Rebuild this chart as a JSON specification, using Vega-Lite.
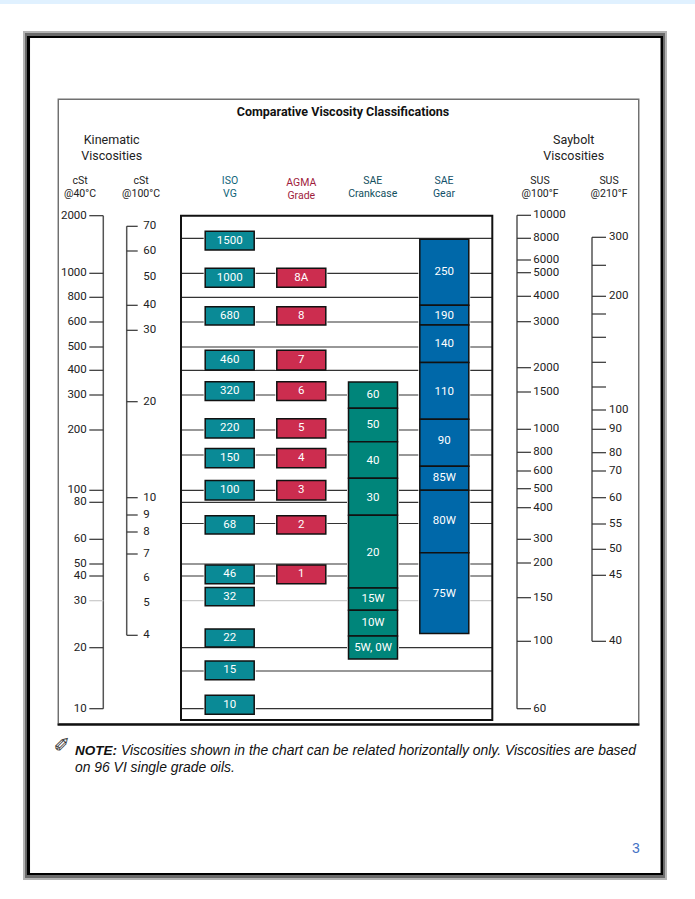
{"$schema":"https://vega.github.io/schema/vega-lite/v6.json","width":695,"height":899,"padding":0,"autosize":{"type":"none"},"background":"white","config":{"view":{"stroke":null}},
"datasets":{
"page":[
{"element":"strip","x0":0,"x1":100,"y0":0,"y1":0.44},
{"element":"outer","x0":3.31,"x1":95.97,"y0":3.45,"y1":97.89},
{"element":"mid","x0":3.6,"x1":95.68,"y0":3.67,"y1":97.66},
{"element":"black","x0":3.88,"x1":95.4,"y0":4.0,"y1":97.33},
{"element":"white","x0":4.32,"x1":95.04,"y0":4.23,"y1":97.11},
{"element":"frame","x0":8.28,"x1":92.01,"y0":10.96,"y1":80.6},
{"element":"white","x0":8.49,"x1":91.8,"y0":11.12,"y1":80.42},
{"element":"base","x0":8.28,"x1":92.01,"y0":80.48,"y1":80.73}
],
"headers":[
{"role":"title","text":"Comparative Viscosity Classifications","x":49.35,"y":12.46},
{"role":"group","text":"Kinematic","x":16.07,"y":15.57},
{"role":"group","text":"Viscosities","x":16.07,"y":17.35},
{"role":"group","text":"Saybolt","x":82.55,"y":15.57},
{"role":"group","text":"Viscosities","x":82.55,"y":17.35},
{"role":"column","tint":"scale","text":"cSt","x":11.51,"y":20.13},
{"role":"column","tint":"scale","text":"@40°C","x":11.51,"y":21.58},
{"role":"column","tint":"scale","text":"cSt","x":20.29,"y":20.13},
{"role":"column","tint":"scale","text":"@100°C","x":20.29,"y":21.58},
{"role":"column","tint":"ISO VG","text":"ISO","x":33.09,"y":20.13},
{"role":"column","tint":"ISO VG","text":"VG","x":33.09,"y":21.58},
{"role":"column","tint":"AGMA Grade","text":"AGMA","x":43.35,"y":20.32},
{"role":"column","tint":"AGMA Grade","text":"Grade","x":43.35,"y":21.77},
{"role":"column","tint":"SAE Crankcase","text":"SAE","x":53.63,"y":20.13},
{"role":"column","tint":"SAE Crankcase","text":"Crankcase","x":53.63,"y":21.58},
{"role":"column","tint":"SAE Gear","text":"SAE","x":63.88,"y":20.13},
{"role":"column","tint":"SAE Gear","text":"Gear","x":63.88,"y":21.58},
{"role":"column","tint":"scale","text":"SUS","x":77.7,"y":20.13},
{"role":"column","tint":"scale","text":"@100°F","x":77.7,"y":21.58},
{"role":"column","tint":"scale","text":"SUS","x":87.63,"y":20.13},
{"role":"column","tint":"scale","text":"@210°F","x":87.63,"y":21.58},
{"role":"noteBold","text":"NOTE:","x":10.79,"y":83.54},
{"role":"note","text":"Viscosities shown in the chart can be related horizontally only. Viscosities are based","x":17.41,"y":83.54},
{"role":"note","text":"on 96 VI single grade oils.","x":10.79,"y":85.43},
{"role":"icon","text":"✐","x":8.92,"y":82.98},
{"role":"pageNumber","text":"3","x":91.51,"y":94.44}
],
"lines":[
{"cSt":1500,"from":3,"to":8},{"cSt":1000,"from":3,"to":8},{"cSt":800,"from":3,"to":8},{"cSt":600,"from":3,"to":8},{"cSt":500,"from":3,"to":8},{"cSt":400,"from":3,"to":8},{"cSt":300,"from":3,"to":8},{"cSt":200,"from":3,"to":8},{"cSt":150,"from":3,"to":8},{"cSt":100,"from":3,"to":8},{"cSt":80,"from":3,"to":8},{"cSt":68,"from":3,"to":8},{"cSt":50,"from":3,"to":8},{"cSt":40,"from":3,"to":8},{"cSt":30,"from":3,"to":8},{"cSt":20,"from":3,"to":8},{"cSt":15,"from":3,"to":8},{"cSt":10,"from":3,"to":8}
],
"box":[{"from":3,"to":8,"top":2000,"bottom":8.5}],
"grades":[
{"col":4,"system":"ISO VG","label":"1500","hi":1655,"lo":1333,"mid":1467},
{"col":4,"system":"ISO VG","label":"1000","hi":1071,"lo":883,"mid":962.5},
{"col":4,"system":"ISO VG","label":"680","hi":724,"lo":588,"mid":650},
{"col":4,"system":"ISO VG","label":"460","hi":486,"lo":401,"mid":444},
{"col":4,"system":"ISO VG","label":"320","hi":354,"lo":284,"mid":316},
{"col":4,"system":"ISO VG","label":"220","hi":232,"lo":184,"mid":205},
{"col":4,"system":"ISO VG","label":"150","hi":163,"lo":132,"mid":146},
{"col":4,"system":"ISO VG","label":"100","hi":114,"lo":84,"mid":100},
{"col":4,"system":"ISO VG","label":"68","hi":72.4,"lo":62.7,"mid":67.3},
{"col":4,"system":"ISO VG","label":"46","hi":49.2,"lo":36.9,"mid":41.4},
{"col":4,"system":"ISO VG","label":"32","hi":35.3,"lo":28.9,"mid":31.5},
{"col":4,"system":"ISO VG","label":"22","hi":24,"lo":20.15,"mid":22.1},
{"col":4,"system":"ISO VG","label":"15","hi":17.15,"lo":13.85,"mid":15.15},
{"col":4,"system":"ISO VG","label":"10","hi":11.78,"lo":9.26,"mid":10.5},
{"col":5,"system":"AGMA Grade","label":"8A","hi":1071,"lo":883,"mid":962.5},
{"col":5,"system":"AGMA Grade","label":"8","hi":724,"lo":588,"mid":650},
{"col":5,"system":"AGMA Grade","label":"7","hi":486,"lo":401,"mid":444},
{"col":5,"system":"AGMA Grade","label":"6","hi":354,"lo":284,"mid":316},
{"col":5,"system":"AGMA Grade","label":"5","hi":232,"lo":184,"mid":205},
{"col":5,"system":"AGMA Grade","label":"4","hi":163,"lo":132,"mid":146},
{"col":5,"system":"AGMA Grade","label":"3","hi":114,"lo":84,"mid":100},
{"col":5,"system":"AGMA Grade","label":"2","hi":72.4,"lo":62.7,"mid":67.3},
{"col":5,"system":"AGMA Grade","label":"1","hi":49.2,"lo":36.9,"mid":41.4},
{"col":6,"system":"SAE Crankcase","label":"60","hi":352.6,"lo":262,"mid":299},
{"col":6,"system":"SAE Crankcase","label":"50","hi":262,"lo":176.6,"mid":214},
{"col":6,"system":"SAE Crankcase","label":"40","hi":176.6,"lo":117,"mid":142},
{"col":6,"system":"SAE Crankcase","label":"30","hi":117,"lo":72.6,"mid":88},
{"col":6,"system":"SAE Crankcase","label":"20","hi":72.6,"lo":35.1,"mid":54.6},
{"col":6,"system":"SAE Crankcase","label":"15W","hi":35.1,"lo":27.96,"mid":30.6},
{"col":6,"system":"SAE Crankcase","label":"10W","hi":27.96,"lo":22.5,"mid":25.2},
{"col":6,"system":"SAE Crankcase","label":"5W, 0W","hi":22.5,"lo":17.6,"mid":20},
{"col":7,"system":"SAE Gear","label":"250","hi":1486,"lo":735,"mid":1019},
{"col":7,"system":"SAE Gear","label":"190","hi":735,"lo":588,"mid":649},
{"col":7,"system":"SAE Gear","label":"140","hi":588,"lo":433,"mid":512},
{"col":7,"system":"SAE Gear","label":"110","hi":433,"lo":231,"mid":311},
{"col":7,"system":"SAE Gear","label":"90","hi":231,"lo":134,"mid":178},
{"col":7,"system":"SAE Gear","label":"85W","hi":134,"lo":100,"mid":117},
{"col":7,"system":"SAE Gear","label":"80W","hi":100,"lo":54.6,"mid":69.4},
{"col":7,"system":"SAE Gear","label":"75W","hi":54.6,"lo":23,"mid":32.8}
],
"cSt40":[
{"col":1,"value":2000,"label":"2000"},{"col":1,"value":1000,"label":"1000"},{"col":1,"value":800,"label":"800"},{"col":1,"value":600,"label":"600"},{"col":1,"value":500,"label":"500"},{"col":1,"value":400,"label":"400"},{"col":1,"value":300,"label":"300"},{"col":1,"value":200,"label":"200"},{"col":1,"value":100,"label":"100"},{"col":1,"value":80,"label":"80"},{"col":1,"value":60,"label":"60"},{"col":1,"value":50,"label":"50"},{"col":1,"value":40,"label":"40"},{"col":1,"value":30,"label":"30"},{"col":1,"value":20,"label":"20"},{"col":1,"value":10,"label":"10"}
],
"cSt100":[
{"col":2,"value":70,"label":"70","tick":true},{"col":2,"value":60,"label":"60","tick":true},{"col":2,"value":50,"label":"50","tick":false},{"col":2,"value":40,"label":"40","tick":true},{"col":2,"value":30,"label":"30","tick":true},{"col":2,"value":20,"label":"20","tick":true},{"col":2,"value":10,"label":"10","tick":true},{"col":2,"value":9,"label":"9","tick":true},{"col":2,"value":8,"label":"8","tick":true},{"col":2,"value":7,"label":"7","tick":true},{"col":2,"value":6,"label":"6","tick":false},{"col":2,"value":5,"label":"5","tick":false},{"col":2,"value":4,"label":"4","tick":true}
],
"sus100":[
{"col":9,"value":10000,"label":"10000"},{"col":9,"value":8000,"label":"8000"},{"col":9,"value":6000,"label":"6000"},{"col":9,"value":5000,"label":"5000"},{"col":9,"value":4000,"label":"4000"},{"col":9,"value":3000,"label":"3000"},{"col":9,"value":2000,"label":"2000"},{"col":9,"value":1500,"label":"1500"},{"col":9,"value":1000,"label":"1000"},{"col":9,"value":800,"label":"800"},{"col":9,"value":600,"label":"600"},{"col":9,"value":500,"label":"500"},{"col":9,"value":400,"label":"400"},{"col":9,"value":300,"label":"300"},{"col":9,"value":200,"label":"200"},{"col":9,"value":150,"label":"150"},{"col":9,"value":100,"label":"100"},{"col":9,"value":60,"label":"60"}
],
"sus210":[
{"col":10,"value":300,"label":"300"},{"col":10,"value":250,"label":""},{"col":10,"value":200,"label":"200"},{"col":10,"value":180,"label":""},{"col":10,"value":160,"label":""},{"col":10,"value":140,"label":""},{"col":10,"value":120,"label":""},{"col":10,"value":100,"label":"100"},{"col":10,"value":90,"label":"90"},{"col":10,"value":80,"label":"80"},{"col":10,"value":70,"label":"70"},{"col":10,"value":60,"label":"60"},{"col":10,"value":55,"label":"55"},{"col":10,"value":50,"label":"50"},{"col":10,"value":45,"label":"45"},{"col":10,"value":40,"label":"40"}
]
},
"resolve":{"scale":{"x":"independent","y":"independent","color":"independent"}},
"layer":[
{"data":{"name":"page"},"mark":{"type":"rect"},"encoding":{
"x":{"field":"x0","type":"quantitative","axis":null,"scale":{"domain":[0,100],"range":[0,695],"nice":false,"zero":false}},"x2":{"field":"x1"},
"y":{"field":"y0","type":"quantitative","axis":null,"scale":{"domain":[0,100],"range":[0,899],"nice":false,"zero":false}},"y2":{"field":"y1"},
"color":{"field":"element","type":"nominal","legend":null,"scale":{"domain":["strip","outer","mid","black","white","frame","base"],"range":["#e0f1ff","#b3b3b3","#6b6b6b","#000000","#ffffff","#707070","#111111"]}}}},
{"encoding":{
"x":{"field":"from","type":"quantitative","axis":null,"scale":{"domain":[1,2,3,4,5,6,7,8,9,10],"range":[103.3,126.7,181,229.7,301.3,373,444.3,492.3,517,592],"nice":false,"zero":false}},
"x2":{"field":"to"}},
"data":{"name":"lines"},
"layer":[
{"mark":{"type":"rule","strokeWidth":1.2},"encoding":{"y":{"field":"cSt","type":"quantitative","axis":null,"scale":{"domain":[10,15,20,30,40,50,60,68,80,100,150,200,300,400,500,600,800,1000,1500,2000],"range":[708.7,671,647.7,600.7,576,564,539.3,523.5,502.3,490.3,455,430,395,370.3,347,322,297.3,273.3,238.3,215.7],"nice":false,"zero":false}},
"color":{"condition":{"test":"datum.cSt===30","value":"#c9c9c9"},"value":"#333333"}}},
{"data":{"name":"box"},"mark":{"type":"rect","fill":null,"stroke":"#111111","strokeWidth":2},"encoding":{"y":{"field":"top","type":"quantitative","axis":null},"y2":{"field":"bottom"}}}
]},
{"data":{"name":"grades"},"encoding":{
"x":{"field":"col","type":"quantitative","axis":null,"scale":{"domain":[1,2,3,4,5,6,7,8,9,10],"range":[103.3,126.7,181,229.7,301.3,373,444.3,492.3,517,592],"nice":false,"zero":false}},
"y":{"field":"hi","type":"quantitative","axis":null,"scale":{"domain":[10,15,20,30,40,50,60,68,80,100,150,200,300,400,500,600,800,1000,1500,2000],"range":[708.7,671,647.7,600.7,576,564,539.3,523.5,502.3,490.3,455,430,395,370.3,347,322,297.3,273.3,238.3,215.7],"nice":false,"zero":false}}},
"layer":[
{"mark":{"type":"rect","width":52,"fill":"#ffffff"},"encoding":{"y2":{"field":"lo"}}},
{"mark":{"type":"rect","width":49,"stroke":"#111111","strokeWidth":1.5},"encoding":{"y2":{"field":"lo"},
"color":{"field":"system","type":"nominal","legend":null,"scale":{"domain":["ISO VG","AGMA Grade","SAE Crankcase","SAE Gear"],"range":["#0a8a96","#cc2d4f","#00857a","#0068a9"]}}}},
{"mark":{"type":"text","font":"Roboto","fontSize":11.5,"color":"#ffffff","baseline":"middle","align":"center"},"encoding":{"y":{"field":"mid","type":"quantitative","axis":null},"text":{"field":"label"}}}
]},
{"data":{"name":"cSt40"},"encoding":{
"x":{"field":"col","type":"quantitative","axis":null,"scale":{"domain":[1,2,3,4,5,6,7,8,9,10],"range":[103.3,126.7,181,229.7,301.3,373,444.3,492.3,517,592],"nice":false,"zero":false}},
"y":{"field":"value","type":"quantitative","axis":null,"scale":{"domain":[10,15,20,30,40,50,60,68,80,100,150,200,300,400,500,600,800,1000,1500,2000],"range":[708.7,671,647.7,600.7,576,564,539.3,523.5,502.3,490.3,455,430,395,370.3,347,322,297.3,273.3,238.3,215.7],"nice":false,"zero":false}}},
"layer":[
{"mark":{"type":"rule","strokeWidth":1.5,"color":"#555555"},"encoding":{"y":{"aggregate":"min","field":"value","type":"quantitative","axis":null},"y2":{"aggregate":"max","field":"value"}}},
{"mark":{"type":"tick","orient":"horizontal","size":14,"thickness":1.2,"xOffset":-7,"opacity":1},"encoding":{"color":{"condition":{"test":"datum.value===30","value":"#c9c9c9"},"value":"#333333"}}},
{"mark":{"type":"text","font":"Roboto","fontSize":11.5,"color":"#222222","align":"right","baseline":"middle","dx":-16.5},"encoding":{"text":{"field":"label"}}}
]},
{"data":{"name":"cSt100"},"encoding":{
"x":{"field":"col","type":"quantitative","axis":null,"scale":{"domain":[1,2,3,4,5,6,7,8,9,10],"range":[103.3,126.7,181,229.7,301.3,373,444.3,492.3,517,592],"nice":false,"zero":false}},
"y":{"field":"value","type":"quantitative","axis":null,"scale":{"domain":[4,5,6,7,8,9,10,20,30,40,50,60,70],"range":[635.3,603.3,578.3,554,532,515,497.7,401.7,330.3,305.3,277,251,226.3],"nice":false,"zero":false}}},
"layer":[
{"mark":{"type":"rule","strokeWidth":1.5,"color":"#555555"},"encoding":{"y":{"aggregate":"min","field":"value","type":"quantitative","axis":null},"y2":{"aggregate":"max","field":"value"}}},
{"transform":[{"filter":"datum.tick"}],"mark":{"type":"tick","orient":"horizontal","size":11,"thickness":1.2,"xOffset":5.5,"color":"#333333","opacity":1}},
{"mark":{"type":"text","font":"Roboto","fontSize":11.5,"color":"#222222","align":"left","baseline":"middle","dx":16.5},"encoding":{"text":{"field":"label"}}}
]},
{"data":{"name":"sus100"},"encoding":{
"x":{"field":"col","type":"quantitative","axis":null,"scale":{"domain":[1,2,3,4,5,6,7,8,9,10],"range":[103.3,126.7,181,229.7,301.3,373,444.3,492.3,517,592],"nice":false,"zero":false}},
"y":{"field":"value","type":"quantitative","axis":null,"scale":{"domain":[60,100,150,200,300,400,500,600,800,1000,1500,2000,3000,4000,5000,6000,8000,10000],"range":[708.7,641.3,597.7,563,539.3,507.7,488.7,471,452.3,429.3,392,367.7,321.7,296.3,272.7,260,238.3,215.3],"nice":false,"zero":false}}},
"layer":[
{"mark":{"type":"rule","strokeWidth":1.5,"color":"#555555"},"encoding":{"y":{"aggregate":"min","field":"value","type":"quantitative","axis":null},"y2":{"aggregate":"max","field":"value"}}},
{"mark":{"type":"tick","orient":"horizontal","size":14,"thickness":1.2,"xOffset":7,"color":"#333333","opacity":1}},
{"mark":{"type":"text","font":"Roboto","fontSize":11.5,"color":"#222222","align":"left","baseline":"middle","dx":16.3},"encoding":{"text":{"field":"label"}}}
]},
{"data":{"name":"sus210"},"encoding":{
"x":{"field":"col","type":"quantitative","axis":null,"scale":{"domain":[1,2,3,4,5,6,7,8,9,10],"range":[103.3,126.7,181,229.7,301.3,373,444.3,492.3,517,592],"nice":false,"zero":false}},
"y":{"field":"value","type":"quantitative","axis":null,"scale":{"domain":[40,45,50,55,60,70,80,90,100,120,140,160,180,200,250,300],"range":[641.3,575.3,549.3,524,497.7,471,452.7,429.3,410,387,362.3,337.3,314,296.3,265.3,237.3],"nice":false,"zero":false}}},
"layer":[
{"mark":{"type":"rule","strokeWidth":1.5,"color":"#555555"},"encoding":{"y":{"aggregate":"min","field":"value","type":"quantitative","axis":null},"y2":{"aggregate":"max","field":"value"}}},
{"mark":{"type":"tick","orient":"horizontal","size":14,"thickness":1.2,"xOffset":7,"color":"#333333","opacity":1}},
{"mark":{"type":"text","font":"Roboto","fontSize":11.5,"color":"#222222","align":"left","baseline":"middle","dx":17},"encoding":{"text":{"field":"label"}}}
]},
{"data":{"name":"headers"},"encoding":{
"x":{"field":"x","type":"quantitative","axis":null,"scale":{"domain":[0,100],"range":[0,695],"nice":false,"zero":false}},
"y":{"field":"y","type":"quantitative","axis":null,"scale":{"domain":[0,100],"range":[0,899],"nice":false,"zero":false}},
"text":{"field":"text"}},
"layer":[
{"transform":[{"filter":"datum.role==='title'"}],"mark":{"type":"text","font":"Roboto","fontWeight":"bold","fontSize":12.5,"color":"#111111","baseline":"middle","align":"center"}},
{"transform":[{"filter":"datum.role==='group'"}],"mark":{"type":"text","font":"Roboto","fontSize":12.5,"color":"#222222","baseline":"middle","align":"center"}},
{"transform":[{"filter":"datum.role==='column'"}],"mark":{"type":"text","font":"Roboto","fontSize":10.5,"baseline":"middle","align":"center"},"encoding":{"color":{"field":"tint","type":"nominal","legend":null,"scale":{"domain":["scale","ISO VG","AGMA Grade","SAE Crankcase","SAE Gear"],"range":["#222222","#0f6478","#a01c3c","#12505e","#12506a"]}}}},
{"transform":[{"filter":"datum.role==='noteBold'"}],"mark":{"type":"text","font":"Liberation Sans","fontWeight":"bold","fontStyle":"italic","fontSize":13.5,"color":"#111111","baseline":"middle","align":"left"}},
{"transform":[{"filter":"datum.role==='note'"}],"mark":{"type":"text","font":"Liberation Sans","fontStyle":"italic","fontSize":13.9,"color":"#111111","baseline":"middle","align":"left"}},
{"transform":[{"filter":"datum.role==='icon'"}],"mark":{"type":"text","font":"DejaVu Sans","fontSize":20,"color":"#333333","baseline":"middle","align":"center"}},
{"transform":[{"filter":"datum.role==='pageNumber'"}],"mark":{"type":"text","font":"Liberation Sans","fontSize":14,"color":"#4472c4","baseline":"middle","align":"center"}}
]}
]}
